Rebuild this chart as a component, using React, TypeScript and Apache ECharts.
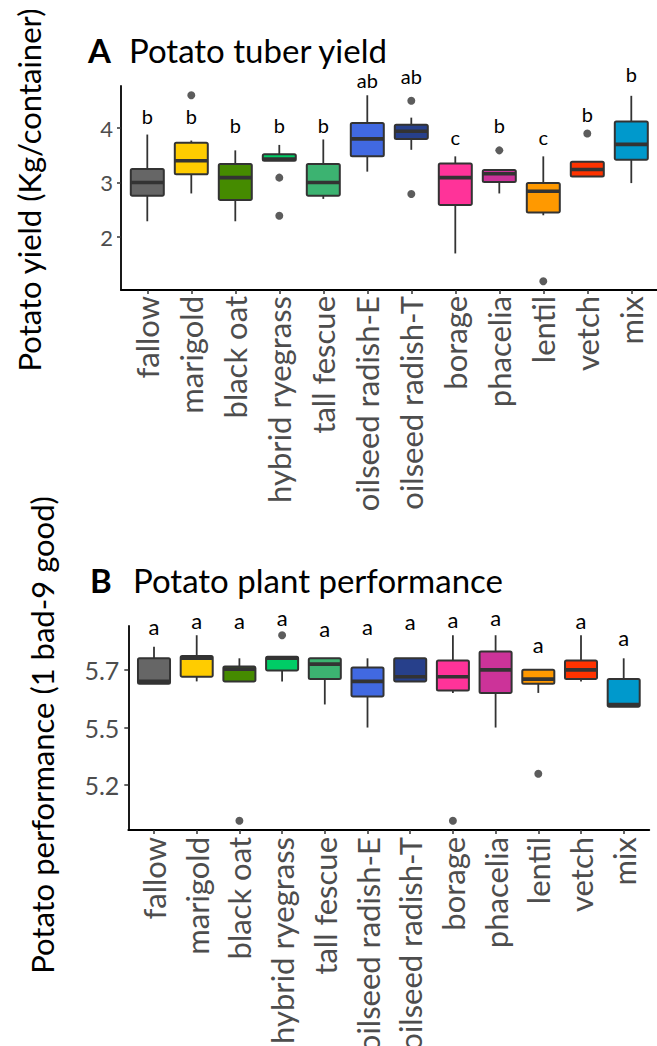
import React, { useEffect, useRef } from "react";
import * as echarts from "echarts";

const CATEGORIES = ["fallow", "marigold", "black oat", "hybrid ryegrass", "tall fescue", "oilseed radish-E", "oilseed radish-T", "borage", "phacelia", "lentil", "vetch", "mix"];
const COLORS = ["#666666", "#FFCC00", "#458B00", "#00CC66", "#3CB371", "#4169E1", "#27408B", "#FF3399", "#CC3399", "#FF9900", "#FF3300", "#0099CC"];

// [lower whisker, Q1, median, Q3, upper whisker]
const YIELD_STATS = [
  [2.29, 2.76, 3.0, 3.25, 3.88],
  [2.8, 3.15, 3.4, 3.73, 3.77],
  [2.29, 2.68, 3.09, 3.34, 3.59],
  [3.4, 3.4, 3.43, 3.52, 3.69],
  [2.7, 2.76, 3.0, 3.34, 3.79],
  [3.2, 3.48, 3.8, 4.09, 4.6],
  [3.6, 3.8, 3.94, 4.06, 4.19],
  [1.7, 2.59, 3.09, 3.35, 3.48],
  [2.8, 3.01, 3.16, 3.23, 3.23],
  [2.4, 2.45, 2.84, 2.99, 3.48],
  [3.11, 3.11, 3.24, 3.38, 3.38],
  [2.99, 3.42, 3.7, 4.12, 4.59],
];
const YIELD_OUTLIERS = [[1, 4.6], [3, 3.09], [3, 2.39], [6, 4.5], [6, 2.79], [8, 3.59], [9, 1.19], [10, 3.9]];
const YIELD_LETTERS = ["b", "b", "b", "b", "b", "ab", "ab", "c", "b", "c", "b", "b"];
const YIELD_LETTER_Y = [4.22, 4.22, 4.05, 4.05, 4.05, 4.88, 4.95, 3.83, 4.05, 3.83, 4.26, 4.99];
const YIELD_TICKS = [2, 3, 4];

const PERF_STATS = [
  [5.69, 5.69, 5.7, 5.8, 5.85],
  [5.7, 5.72, 5.8, 5.81, 5.9],
  [5.7, 5.7, 5.753, 5.764, 5.8],
  [5.7, 5.747, 5.8, 5.807, 5.807],
  [5.6, 5.71, 5.775, 5.8, 5.8],
  [5.5, 5.635, 5.7, 5.76, 5.8],
  [5.7, 5.7, 5.72, 5.8, 5.8],
  [5.65, 5.66, 5.72, 5.79, 5.9],
  [5.5, 5.65, 5.75, 5.83, 5.9],
  [5.65, 5.69, 5.71, 5.75, 5.75],
  [5.7, 5.71, 5.75, 5.79, 5.9],
  [5.59, 5.59, 5.6, 5.71, 5.8],
];
const PERF_OUTLIERS = [[2, 5.096], [3, 5.9], [7, 5.096], [9, 5.3]];
const PERF_LETTERS = ["a", "a", "a", "a", "a", "a", "a", "a", "a", "a", "a", "a"];
const PERF_LETTER_Y = [5.94, 5.964, 5.964, 5.975, 5.93, 5.94, 5.958, 5.968, 5.978, 5.858, 5.964, 5.889];
const PERF_TICK_VALUES = [5.25, 5.5, 5.75];
const PERF_TICK_LABELS = ["5.2", "5.5", "5.7"];

const FONT = "Lato, 'Open Sans', sans-serif";
const W = 657;
const H = 1046;

function boxRender(params: any, api: any) {
  const i = api.value(0);
  const pLo = api.coord([i, api.value(1)]);
  const pQ1 = api.coord([i, api.value(2)]);
  const pMed = api.coord([i, api.value(3)]);
  const pQ3 = api.coord([i, api.value(4)]);
  const pHi = api.coord([i, api.value(5)]);
  const band = api.size([1, 0])[0];
  const half = band * 0.375;
  const cx = pMed[0];
  const stroke = "#333333";
  return {
    type: "group",
    children: [
      { type: "line", shape: { x1: cx, y1: pHi[1], x2: cx, y2: pQ3[1] }, style: { stroke, lineWidth: 1.8 } },
      { type: "line", shape: { x1: cx, y1: pQ1[1], x2: cx, y2: pLo[1] }, style: { stroke, lineWidth: 1.8 } },
      {
        type: "rect",
        shape: { x: cx - half, y: pQ3[1], width: half * 2, height: pQ1[1] - pQ3[1], r: 1.5 },
        style: { fill: COLORS[params.dataIndex], stroke, lineWidth: 2, lineJoin: "round" },
      },
      { type: "line", shape: { x1: cx - half, y1: pMed[1], x2: cx + half, y2: pMed[1] }, style: { stroke, lineWidth: 3.6 } },
    ],
  };
}

function letterRender(fontSize: number) {
  return (params: any, api: any) => {
    const p = api.coord([api.value(0), api.value(1)]);
    return {
      type: "text",
      x: p[0],
      y: p[1],
      style: {
        text: api.value(2),
        fill: "#000000",
        fontSize,
        lineHeight: fontSize * 0.9,
        fontFamily: FONT,
        align: "center",
        verticalAlign: "middle",
      },
    };
  };
}

export default function App() {
  const ref = useRef<HTMLDivElement>(null);
  useEffect(() => {
    if (!ref.current) return;
    const chart = echarts.init(ref.current, undefined, { renderer: "svg", width: W, height: H });

    const yA = { min: 1.03, max: 4.77 };
    const yB = { min: 5.056, max: 5.94 };

    const catAxis = (gridIndex: number, fontSize: number, margin: number) => ({
      type: "category",
      gridIndex,
      data: CATEGORIES,
      boundaryGap: true,
      axisLine: { show: false },
      axisTick: { show: true, alignWithLabel: true, length: 4, lineStyle: { color: "#333333", width: 1.5 } },
      axisLabel: { rotate: 90, margin, color: "#4D4D4D", fontSize, fontFamily: FONT, interval: 0, hideOverlap: false },
      splitLine: { show: false },
    });
    const lineAxisX = (gridIndex: number) => ({
      type: "value",
      gridIndex,
      min: 0,
      max: 1,
      axisLine: { show: true, lineStyle: { color: "#000000", width: 1.8 } },
      axisTick: { show: false },
      axisLabel: { show: false },
      splitLine: { show: false },
    });

    const titleText = (text: string, left: number, top: number, bold: boolean) => ({
      type: "text",
      left,
      top,
      style: { text, fontSize: 33, lineHeight: 30, fontWeight: bold ? "bold" : "normal", fontFamily: FONT, fill: "#000" },
    });

    const gridBase = { containLabel: false, outerBoundsMode: "none" };

    const option: any = {
      animation: false,
      backgroundColor: "#ffffff",
      grid: [
        { ...gridBase, left: 125.3, top: 86, width: 528, height: 204 },
        { ...gridBase, left: 121, top: 86, width: 537, height: 204 },
        { ...gridBase, left: 132.65, top: 626, width: 512.4, height: 204 },
        { ...gridBase, left: 128.3, top: 626, width: 521, height: 204 },
      ],
      xAxis: [catAxis(0, 31, 6), lineAxisX(1), catAxis(2, 31, 7), lineAxisX(3)],
      yAxis: [
        { type: "value", gridIndex: 0, ...yA, show: false, splitLine: { show: false } },
        {
          type: "value",
          gridIndex: 1,
          ...yA,
          axisLine: { show: true, lineStyle: { color: "#000000", width: 1.8 } },
          axisTick: { show: true, length: 4, customValues: YIELD_TICKS, lineStyle: { color: "#333333", width: 1.5 } },
          axisLabel: { customValues: YIELD_TICKS, color: "#4D4D4D", fontSize: 22, fontFamily: FONT, margin: 8 },
          splitLine: { show: false },
        },
        { type: "value", gridIndex: 2, ...yB, show: false, splitLine: { show: false } },
        {
          type: "value",
          gridIndex: 3,
          ...yB,
          axisLine: { show: true, lineStyle: { color: "#000000", width: 1.8 } },
          axisTick: { show: true, length: 4, customValues: PERF_TICK_VALUES, lineStyle: { color: "#333333", width: 1.5 } },
          axisLabel: {
            customValues: PERF_TICK_VALUES,
            color: "#4D4D4D",
            fontSize: 25,
            fontFamily: FONT,
            margin: 9,
            formatter: (v: number) => {
              const k = PERF_TICK_VALUES.findIndex((t) => Math.abs(t - v) < 1e-6);
              return k >= 0 ? PERF_TICK_LABELS[k] : "";
            },
          },
          splitLine: { show: false },
        },
      ],
      series: [
        {
          type: "custom",
          xAxisIndex: 0,
          yAxisIndex: 0,
          renderItem: boxRender,
          encode: { x: 0, y: [1, 2, 3, 4, 5] },
          data: YIELD_STATS.map((s, i) => [i, ...s]),
          z: 2,
        },
        {
          type: "scatter",
          xAxisIndex: 0,
          yAxisIndex: 0,
          symbolSize: 8,
          itemStyle: { color: "#333333" },
          data: YIELD_OUTLIERS,
          z: 3,
        },
        {
          type: "custom",
          xAxisIndex: 0,
          yAxisIndex: 0,
          renderItem: letterRender(20),
          encode: { x: 0, y: 1 },
          data: YIELD_LETTERS.map((t, i) => [i, YIELD_LETTER_Y[i], t]),
          dimensions: ["x", "y", { name: "t", type: "ordinal" }],
          clip: false,
          z: 4,
        },
        {
          type: "custom",
          xAxisIndex: 2,
          yAxisIndex: 2,
          renderItem: boxRender,
          encode: { x: 0, y: [1, 2, 3, 4, 5] },
          data: PERF_STATS.map((s, i) => [i, ...s]),
          z: 2,
        },
        {
          type: "scatter",
          xAxisIndex: 2,
          yAxisIndex: 2,
          symbolSize: 8,
          itemStyle: { color: "#333333" },
          data: PERF_OUTLIERS,
          z: 3,
        },
        {
          type: "custom",
          xAxisIndex: 2,
          yAxisIndex: 2,
          renderItem: letterRender(22),
          encode: { x: 0, y: 1 },
          data: PERF_LETTERS.map((t, i) => [i, PERF_LETTER_Y[i], t]),
          dimensions: ["x", "y", { name: "t", type: "ordinal" }],
          clip: false,
          z: 4,
        },
      ],
      graphic: [
        titleText("A", 88, 33, true),
        titleText("Potato tuber yield", 129, 33, false),
        titleText("B", 90, 563, true),
        titleText("Potato plant performance", 133, 563, false),
        {
          type: "text",
          x: 29,
          y: 190,
          rotation: Math.PI / 2,
          style: { text: "Potato yield (Kg/container)", fontSize: 31, fontFamily: FONT, fill: "#000", align: "center", verticalAlign: "middle" },
        },
        {
          type: "text",
          x: 42,
          y: 735,
          rotation: Math.PI / 2,
          style: { text: "Potato performance (1 bad-9 good)", fontSize: 31, fontFamily: FONT, fill: "#000", align: "center", verticalAlign: "middle" },
        },
      ],
    };
    chart.setOption(option);
    return () => chart.dispose();
  }, []);
  return <div ref={ref} style={{ position: "fixed", left: 0, top: 0, width: W, height: H, background: "#fff" }} />;
}
